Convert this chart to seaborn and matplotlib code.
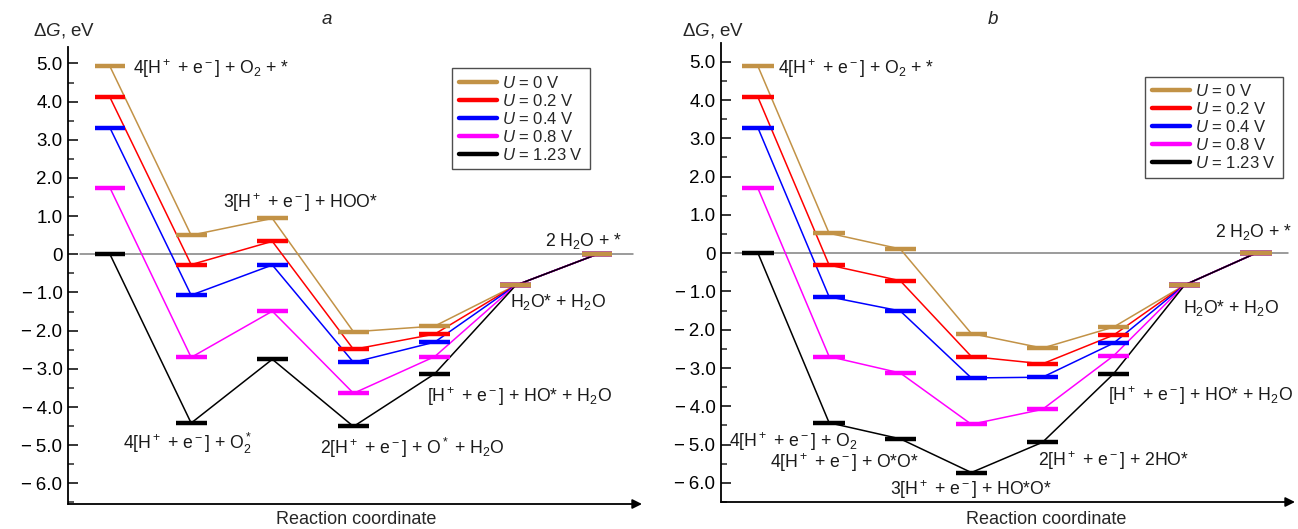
import numpy as np
import pandas as pd
import matplotlib
matplotlib.use("Agg")
import matplotlib.pyplot as plt
from matplotlib.lines import Line2D
from matplotlib.ticker import FixedLocator, FixedFormatter, MultipleLocator
import seaborn as sns

# ---------------- data ----------------
potentials = ["U = 0 V", "U = 0.2 V", "U = 0.4 V", "U = 0.8 V", "U = 1.23 V"]
legend_labels = ["$U$ = 0 V", "$U$ = 0.2 V", "$U$ = 0.4 V", "$U$ = 0.8 V", "$U$ = 1.23 V"]
colors = ["#C29246", "#FF0000", "#0000FF", "#FF00FF", "#000000"]

# panel a: 7 states
steps_a = [1, 2, 3, 4, 5, 6, 7]
G_a_U0   = [4.92, 0.50, 0.94, -2.03, -1.88, -0.81, 0.0]
G_a_U02  = [4.11, -0.27, 0.34, -2.49, -2.09, -0.81, 0.0]
G_a_U04  = [3.31, -1.07, -0.28, -2.83, -2.30, -0.81, 0.0]
G_a_U08  = [1.74, -2.70, -1.49, -3.64, -2.68, -0.81, 0.0]
G_a_U123 = [0.0, -4.42, -2.75, -4.51, -3.13, -0.81, 0.0]

# panel b: 8 states
steps_b = [1, 2, 3, 4, 5, 6, 7, 8]
G_b_U0   = [4.88, 0.52, 0.11, -2.10, -2.48, -1.93, -0.83, 0.0]
G_b_U02  = [4.07, -0.31, -0.72, -2.70, -2.89, -2.14, -0.83, 0.0]
G_b_U04  = [3.27, -1.14, -1.51, -3.26, -3.24, -2.35, -0.83, 0.0]
G_b_U08  = [1.69, -2.70, -3.13, -4.47, -4.08, -2.68, -0.83, 0.0]
G_b_U123 = [0.0, -4.43, -4.85, -5.73, -4.94, -3.15, -0.83, 0.0]

ytick_vals = [5, 4, 3, 2, 1, 0, -1, -2, -3, -4, -5, -6]
ytick_labels = ["5.0", "4.0", "3.0", "2.0", "1.0", "0",
                "\u2212\u20091.0", "\u2212\u20092.0", "\u2212\u20093.0", "\u2212\u20094.0",
                "\u2212\u20095.0", "\u2212\u20096.0"]

labels_a = [
    (1.283, 4.72, r"4[H$^+$ + e$^-$] + O$_2$ + *"),
    (2.392, 1.20, r"3[H$^+$ + e$^-$] + HOO*"),
    (1.16, -5.10, r"4[H$^+$ + e$^-$] + O$_2^*$"),
    (3.587, -5.23, r"2[H$^+$ + e$^-$] + O$^*$ + H$_2$O"),
    (4.905, -3.86, r"[H$^+$ + e$^-$] + HO* + H$_2$O"),
    (5.928, -1.39, r"H$_2$O* + H$_2$O"),
    (6.36, 0.22, r"2 H$_2$O + *"),
]
labels_b = [
    (1.281, 4.68, r"4[H$^+$ + e$^-$] + O$_2$ + *"),
    (7.43, 0.42, r"2 H$_2$O + *"),
    (6.974, -1.57, r"H$_2$O* + H$_2$O"),
    (5.92, -3.87, r"[H$^+$ + e$^-$] + HO* + H$_2$O"),
    (4.936, -5.57, r"2[H$^+$ + e$^-$] + 2HO*"),
    (2.855, -6.31, r"3[H$^+$ + e$^-$] + HO*O*"),
    (1.169, -5.61, r"4[H$^+$ + e$^-$] + O*O*"),
    (0.592, -5.07, r"4[H$^+$ + e$^-$] + O$_2$"),
]

# ---------------- style ----------------
sns.set_theme(style="ticks")
plt.rcParams["font.family"] = ["Liberation Sans", "DejaVu Sans"]
plt.rcParams["mathtext.fontset"] = "custom"
plt.rcParams["mathtext.rm"] = "Liberation Sans"
plt.rcParams["mathtext.it"] = "Liberation Sans:italic"
plt.rcParams["mathtext.bf"] = "Liberation Sans:bold"

W, H = 1298, 529
fig = plt.figure(figsize=(W / 100, H / 100), dpi=100)


def make_df(steps, series):
    rows = []
    for name, vals in zip(potentials, series):
        for s, g in zip(steps, vals):
            rows.append({"step": s, "G": g, "U": name})
    return pd.DataFrame(rows)


def draw_panel(rect, steps, series, ylim, xlim, hw, zero_span, texts, leg_anchor):
    ax = fig.add_axes(rect)
    df = make_df(steps, series)
    pal = dict(zip(potentials, colors))
    sns.lineplot(data=df, x="step", y="G", hue="U", palette=pal, estimator=None,
                 sort=False, lw=1.1, legend=False, ax=ax, zorder=3)
    for name in potentials[::-1]:
        sub = df[df["U"] == name]
        ax.hlines(sub["G"], sub["step"] - hw, sub["step"] + hw,
                  colors=pal[name], lw=3.2, zorder=4)
    ax.axhline(0, xmin=zero_span[0], xmax=zero_span[1], color="#808080", lw=1.1, zorder=1)
    ax.set_xlim(*xlim)
    ax.set_ylim(*ylim)
    ax.set_xlabel("")
    ax.set_ylabel("")
    ax.set_xticks([])
    ax.yaxis.set_major_locator(FixedLocator(ytick_vals))
    ax.yaxis.set_major_formatter(FixedFormatter(ytick_labels))
    ax.yaxis.set_minor_locator(MultipleLocator(0.5))
    ax.tick_params(axis="y", which="major", direction="in", length=7, width=1.1,
                   labelsize=13.5, pad=4, colors="black")
    ax.tick_params(axis="y", which="minor", direction="in", length=4, width=1.1)
    for sp in ["top", "right", "bottom"]:
        ax.spines[sp].set_visible(False)
    ax.spines["left"].set_linewidth(1.3)
    ax.spines["left"].set_color("black")
    ax.annotate("", xy=(1.0, 0.0), xytext=(0.0, 0.0), xycoords="axes fraction",
                textcoords="axes fraction",
                arrowprops=dict(arrowstyle="-|>", color="black", lw=1.3,
                                mutation_scale=14, shrinkA=0, shrinkB=0))
    for x, y, t in texts:
        ax.text(x, y, t, ha="left", va="baseline", fontsize=12.7, color="#1a1a1a", zorder=6)
    handles = [Line2D([0], [0], color=c, lw=3.2) for c in colors]
    leg = ax.legend(handles, legend_labels, loc="upper left", bbox_to_anchor=leg_anchor,
                    borderaxespad=0, frameon=True, fancybox=False, fontsize=12,
                    handlelength=2.3, handletextpad=0.3, labelspacing=0.12,
                    borderpad=0.4)
    leg.get_frame().set_edgecolor("#222222")
    leg.get_frame().set_linewidth(1.0)
    return ax


def rect_px(x0, x1, ytop, ybot):
    return [x0 / W, 1 - ybot / H, (x1 - x0) / W, (ybot - ytop) / H]


ax_a = draw_panel(rect_px(68, 642, 47, 504), steps_a,
                  [G_a_U0, G_a_U02, G_a_U04, G_a_U08, G_a_U123],
                  (-6.54, 5.43), (0.483, 7.554), 0.19, (0.021, 0.984), labels_a,
                  (0.669, 0.954))
ax_b = draw_panel(rect_px(721, 1295, 43, 502), steps_b,
                  [G_b_U0, G_b_U02, G_b_U04, G_b_U08, G_b_U123],
                  (-6.50, 5.49), (0.48, 8.55), 0.22, (0.024, 0.988), labels_b,
                  (0.739, 0.927))

# panel titles / axis titles
for xl, xt, xr in [(33, 327, 356), (682, 993, 1046)]:
    fig.text(xl / W, 1 - 30 / H, "\u0394$G$, eV", ha="left", va="center", fontsize=13.5)
    fig.text(xt / W, 1 - 20 / H, "a" if xl < 100 else "b", ha="center", va="center",
             fontsize=13.5, style="italic")
    fig.text(xr / W, 1 - 520 / H, "Reaction coordinate", ha="center", va="center",
             fontsize=13)

fig.savefig("out.png", dpi=100)
